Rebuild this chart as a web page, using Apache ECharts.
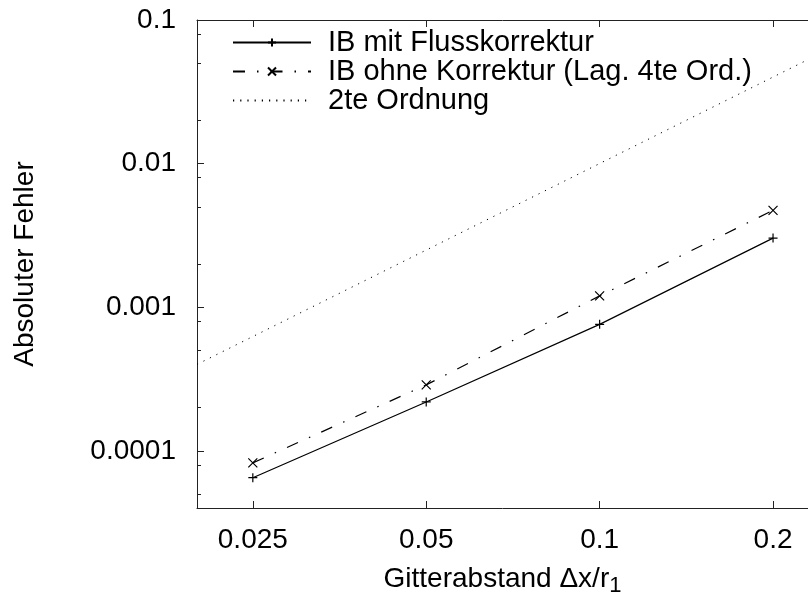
<!DOCTYPE html>
<html>
<head>
<meta charset="utf-8">
<script src="https://cdn.jsdelivr.net/npm/echarts@6/dist/echarts.min.js"></script>
<style>
  html, body { margin: 0; padding: 0; background: #fff; }
  #chart { width: 808px; height: 598px; }
</style>
</head>
<body>
<div id="chart"></div>
<script>
// Messpunkte (Gitterabstand) und Fehler
var gitterAbstand = [0.025, 0.05, 0.1, 0.2];
var fehlerMitKorrektur = [6.5e-5, 2.19e-4, 7.6e-4, 3.03e-3];
var fehlerOhneKorrektur = [8.25e-5, 2.88e-4, 1.2e-3, 4.73e-3];
// Referenzgerade 2te Ordnung
var ordnungX = [0.02, 0.23];
var ordnungY = [0.0004, 0.053];
// Achsenbeschriftung
var xTickWerte = [0.025, 0.05, 0.1, 0.2];
var yMinorWerte = [5e-5, 8e-5, 2e-4, 5e-4, 8e-4, 2e-3, 5e-3, 8e-3, 2e-2, 5e-2, 8e-2];

var schrift = 'Liberation Sans';
var achsFarbe = '#222';

function paare(xs, ys) {
    return xs.map(function (x, i) { return [x, ys[i]]; });
}
function fmt(v) {
    return String(parseFloat(Number(v).toPrecision(6)));
}

var plusSymbol = 'path://M0,5L10,5M5,0L5,10';
var kreuzSymbol = 'path://M0,0L10,10M10,0L0,10';

var chart = echarts.init(document.getElementById('chart'), null, { renderer: 'canvas' });

var option = {
    animation: false,
    backgroundColor: '#fff',
    textStyle: { fontFamily: schrift, color: '#000' },
    grid: { left: 197, top: 20, right: 0, bottom: 90, containLabel: false, outerBoundsMode: 'none' },
    legend: {
        orient: 'vertical',
        left: 232,
        top: 28,
        padding: 0,
        itemWidth: 78,
        itemHeight: 10,
        itemGap: 0,
        textStyle: { fontFamily: schrift, fontSize: 29, color: '#000', padding: [0, 0, 0, 12] },
        data: ['IB mit Flusskorrektur', 'IB ohne Korrektur (Lag. 4te Ord.)', '2te Ordnung']
    },
    xAxis: [
        {
            type: 'log',
            min: 0.02,
            max: 0.23,
            name: 'Gitterabstand Δx/r{sub|1}',
            nameLocation: 'middle',
            nameGap: 53,
            nameTextStyle: {
                fontFamily: schrift, fontSize: 28, color: '#000',
                rich: { sub: { fontFamily: schrift, fontSize: 22, color: '#000', padding: [14, 0, 0, 0] } }
            },
            axisLine: { lineStyle: { color: achsFarbe, width: 1 } },
            axisTick: { inside: true, length: 7, lineStyle: { color: achsFarbe }, customValues: xTickWerte },
            axisLabel: {
                fontFamily: schrift, fontSize: 28, color: '#000', margin: 18,
                customValues: xTickWerte, formatter: fmt
            },
            splitLine: { show: false }
        },
        {
            type: 'log',
            position: 'top',
            min: 0.02,
            max: 0.23,
            axisLine: { lineStyle: { color: achsFarbe, width: 1 } },
            axisTick: { inside: true, length: 7, lineStyle: { color: achsFarbe }, customValues: xTickWerte },
            axisLabel: { show: false },
            splitLine: { show: false }
        }
    ],
    yAxis: [
        {
            type: 'log',
            min: 4e-5,
            max: 0.1,
            name: 'Absoluter Fehler',
            nameLocation: 'middle',
            nameRotate: 90,
            nameGap: 158,
            nameTextStyle: { fontFamily: schrift, fontSize: 28, color: '#000' },
            axisLine: { lineStyle: { color: achsFarbe, width: 1 } },
            axisTick: { inside: true, length: 7, lineStyle: { color: achsFarbe } },
            axisLabel: {
                fontFamily: schrift, fontSize: 28, color: '#000', margin: 21,
                showMinLabel: false, formatter: fmt
            },
            splitLine: { show: false }
        },
        {
            type: 'log',
            position: 'left',
            min: 4e-5,
            max: 0.1,
            axisLine: { show: false },
            axisTick: { inside: true, length: 4, lineStyle: { color: achsFarbe }, customValues: yMinorWerte },
            axisLabel: { show: false },
            splitLine: { show: false }
        }
    ],
    series: [
        {
            name: 'IB mit Flusskorrektur',
            type: 'line',
            data: paare(gitterAbstand, fehlerMitKorrektur),
            symbol: plusSymbol,
            symbolSize: 9,
            lineStyle: { color: '#000', width: 1.2, type: 'solid' },
            itemStyle: { color: 'rgba(0,0,0,0)', borderColor: '#000', borderWidth: 1.2 }
        },
        {
            name: 'IB ohne Korrektur (Lag. 4te Ord.)',
            type: 'line',
            data: paare(gitterAbstand, fehlerOhneKorrektur),
            symbol: kreuzSymbol,
            symbolSize: 9,
            lineStyle: { color: '#000', width: 1.2, type: [12, 12, 1.5, 12] },
            itemStyle: { color: 'rgba(0,0,0,0)', borderColor: '#000', borderWidth: 1.2 }
        },
        {
            name: '2te Ordnung',
            type: 'line',
            data: paare(ordnungX, ordnungY),
            symbol: 'none',
            lineStyle: { color: '#000', width: 1, type: [1.2, 6] },
            itemStyle: { color: 'rgba(0,0,0,0)', borderColor: 'rgba(0,0,0,0)' }
        }
    ]
};

chart.setOption(option);
</script>
</body>
</html>
